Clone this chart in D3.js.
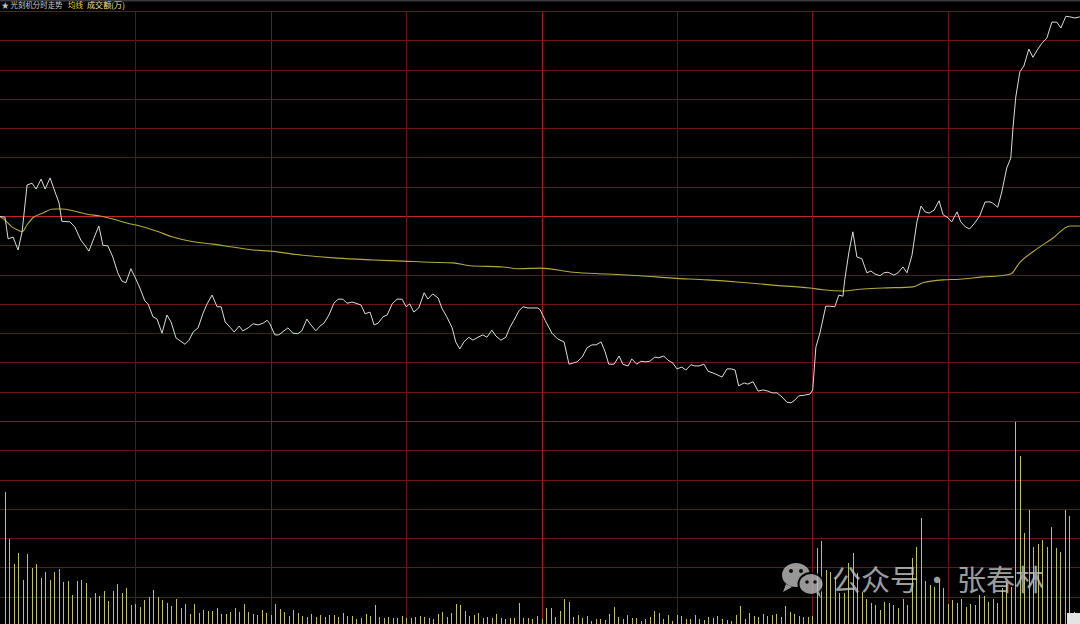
<!DOCTYPE html>
<html><head><meta charset="utf-8">
<script src="https://cdn.jsdelivr.net/npm/d3@7"></script>
<style>
html,body{margin:0;padding:0;background:#000;overflow:hidden;}
svg{display:block;}
</style></head>
<body>
<svg id="c" width="1080" height="624"></svg>
<script>
// ---- data ----
const title = "★ 光刻机分时走势";
const legendAvg = "均线";
const legendVol = "成交额(万)";

// minute offset since open (0..240) for each vertex of the price line
const priceMinute = [0,1.1,1.8,2.9,4.0,4.9,6.0,7.1,8.0,9.1,
10.0,11.1,12.2,13.1,13.7,15.5,16.6,17.9,18.8,19.7,
20.8,21.9,22.8,23.9,25.0,26.1,27.0,27.9,29.0,29.9,
31.0,32.1,32.8,33.9,34.8,35.9,37.0,37.9,39.0,39.9,
41.0,41.9,42.8,43.9,45.0,45.9,47.0,48.1,49.0,49.9,
51.0,51.9,53.0,53.8,55.0,56.1,57.2,58.3,59.2,59.8,
60.9,61.8,63.8,64.9,66.0,66.9,68.0,68.9,70.0,70.9,
71.8,72.9,74.0,74.9,76.0,76.9,78.0,78.9,80.0,80.9,
82.0,82.9,83.8,84.9,85.8,86.9,88.0,89.1,90.0,90.8,
91.7,92.8,94.0,94.8,95.9,97.1,97.9,99.0,100.2,101.0,
101.9,102.8,103.9,104.8,105.9,107.0,107.9,109.0,109.9,111.0,
112.1,113.0,113.9,115.0,115.9,117.0,118.1,119.2,119.7,120.8,
122.3,123.6,125.0,126.1,127.0,127.9,129.0,130.1,131.2,132.1,
133.2,134.1,134.9,136.1,137.2,138.0,139.2,140.0,141.1,142.0,
143.1,144.0,145.1,146.0,147.1,148.0,149.1,150.0,151.1,152.0,
153.1,154.0,154.9,156.0,156.9,158.0,158.9,160.0,161.1,162.0,
162.9,163.7,164.9,165.7,166.9,168.0,169.1,170.2,171.1,172.2,
173.3,174.4,175.3,176.2,177.0,178.2,179.5,180.1,180.8,181.7,
183.0,183.9,185.0,185.9,186.8,187.2,188.1,189.0,189.9,191.0,
192.1,193.0,193.9,195.0,195.9,196.8,198.1,199.0,200.1,201.0,
202.1,203.2,204.1,205.0,205.9,207.0,208.1,209.0,210.1,210.9,
212.1,212.9,214.0,214.9,216.0,217.1,218.3,219.4,220.0,221.1,
222.0,223.1,224.0,224.5,225.1,226.0,226.9,228.0,228.9,230.0,
230.9,232.0,233.1,234.2,235.1,236.2,237.1,238.2,239.3];

// price change vs previous close, %
const pricePct = [-0.01,-0.02,-0.39,-0.36,-0.58,-0.27,0.53,0.56,0.46,0.63,
0.46,0.65,0.41,0.22,-0.09,-0.10,-0.19,-0.41,-0.50,-0.60,
-0.38,-0.17,-0.50,-0.51,-0.70,-0.97,-1.11,-1.14,-0.90,-1.04,
-1.23,-1.45,-1.50,-1.72,-1.76,-2.00,-1.69,-1.81,-2.08,-2.13,
-2.19,-2.12,-1.98,-1.91,-1.66,-1.50,-1.35,-1.55,-1.55,-1.81,
-1.90,-1.98,-1.88,-1.96,-1.91,-1.84,-1.86,-1.83,-1.78,-1.84,
-2.03,-2.03,-1.91,-2.00,-2.01,-1.96,-1.76,-1.86,-1.96,-1.88,
-1.83,-1.69,-1.49,-1.42,-1.42,-1.49,-1.47,-1.49,-1.52,-1.67,
-1.64,-1.86,-1.83,-1.72,-1.69,-1.50,-1.42,-1.42,-1.55,-1.50,
-1.64,-1.57,-1.31,-1.42,-1.33,-1.40,-1.57,-1.72,-1.91,-2.15,
-2.27,-2.15,-2.07,-2.12,-2.07,-2.03,-2.07,-1.95,-2.05,-2.12,
-2.07,-1.90,-1.78,-1.62,-1.55,-1.57,-1.57,-1.57,-1.60,-1.78,
-2.00,-2.10,-2.15,-2.53,-2.51,-2.49,-2.41,-2.25,-2.20,-2.20,
-2.15,-2.32,-2.53,-2.53,-2.39,-2.53,-2.56,-2.44,-2.53,-2.48,
-2.49,-2.48,-2.41,-2.42,-2.39,-2.46,-2.51,-2.61,-2.58,-2.63,
-2.54,-2.56,-2.56,-2.53,-2.65,-2.68,-2.71,-2.75,-2.61,-2.61,
-2.63,-2.90,-2.85,-2.87,-2.83,-2.99,-2.97,-2.99,-3.02,-3.02,
-3.09,-3.18,-3.19,-3.14,-3.07,-3.06,-3.04,-2.97,-2.24,-2.00,
-1.54,-1.54,-1.55,-1.35,-1.37,-1.09,-0.63,-0.27,-0.70,-0.73,
-0.97,-0.94,-0.99,-1.02,-0.97,-0.96,-1.01,-0.97,-0.87,-0.97,
-0.67,-0.10,0.17,0.07,0.05,0.10,0.26,0.02,-0.03,-0.10,
0.07,-0.10,-0.19,-0.22,-0.12,0.00,0.24,0.24,0.22,0.15,
0.41,0.82,0.99,1.52,2.03,2.46,2.56,2.85,2.71,2.85,
2.95,3.04,3.31,3.31,3.21,3.41,3.40,3.38,3.40];

// average-price line (均线)
const avgMinute = [0,1.1,2.7,4.0,4.9,6.0,7.3,9.5,11.7,13.7,
16.2,19.3,22.2,25.0,28.1,31.0,34.8,38.3,42.8,47.2,
51.6,56.1,59.8,67.1,74.7,82.7,89.3,95.3,100.4,104.1,
111.5,114.6,119.7,127.0,134.5,141.8,149.1,156.7,164.0,171.3,
179.5,182.4,186.8,190.6,195.7,202.3,204.5,209.0,212.7,217.8,
221.6,224.0,226.0,228.9,233.3,237.1,239.3];
const avgPct = [-0.01,-0.07,-0.19,-0.24,-0.27,-0.15,-0.03,0.05,0.12,0.12,
0.09,0.03,0.00,-0.05,-0.12,-0.17,-0.26,-0.36,-0.44,-0.48,
-0.53,-0.58,-0.60,-0.67,-0.72,-0.75,-0.77,-0.79,-0.80,-0.85,
-0.87,-0.90,-0.89,-0.96,-0.99,-1.02,-1.06,-1.09,-1.13,-1.18,
-1.23,-1.26,-1.28,-1.25,-1.23,-1.21,-1.14,-1.09,-1.08,-1.04,
-1.02,-0.99,-0.79,-0.61,-0.38,-0.17,-0.17];

// turnover per minute (成交额, 万), minutes 1..239
const volume = [5360,3480,2480,2920,1840,2880,2320,2480,1920,2160,
1840,2160,2280,1760,1800,1240,1800,1840,1720,1120,
1320,1200,1400,1000,1400,1680,1320,1520,840,880,
760,1040,1160,1440,1160,1040,920,800,1080,720,
880,480,880,520,640,600,600,720,480,480,
560,720,560,880,560,480,440,640,520,
440,880,680,560,400,640,520,400,360,480,
360,440,360,440,440,360,520,400,400,280,
320,480,400,840,360,320,360,320,320,400,
320,320,360,400,360,320,280,480,560,360,
520,880,840,600,400,440,520,320,360,320,
480,320,280,320,320,920,320,320,280,400,
280,720,720,360,600,1080,960,360,440,320,
400,200,280,280,240,480,760,360,280,440,
320,320,200,280,360,600,520,280,440,200,
440,400,280,280,440,280,240,360,320,400,
280,240,200,440,800,280,520,400,360,480,
400,440,480,360,800,560,480,400,360,360,
400,
3120,3400,2240,2160,1960,1320,1320,2520,2920,2120,
1360,1080,920,840,640,960,920,840,720,1080,
840,2720,3160,4320,1800,1640,1560,1840,1520,880,
1040,920,1080,760,880,840,1240,1200,960,1080,
920,1520,1720,1560,8160,6800,3720,4640,3160,3280,
3440,3160,3960,3120,2960,4640,4400,
560,480];

const priceGrid = [-3.5,-3,-2.5,-2,-1.5,-1,-0.5,0,0.5,1,1.5,2,2.5,3,3.5];
const volGridSteps = [1,2,3,4,5,6,7];
const timeGrid = [30,60,90,120,150,180,210];

// ---- scales ----
const svg = d3.select("#c");
const x = d3.scaleLinear().domain([0,240]).range([0,1083]);
const yP = d3.scaleLinear().domain([-3.5,3.5]).range([421,11]);
const volMax = 8200;
const yV = d3.scaleLinear().domain([0,volMax]).range([626,421]);

svg.append("rect").attr("width",1080).attr("height",624).attr("fill","#000");

// header
svg.append("rect").attr("x",0).attr("y",0).attr("width",1080).attr("height",1.5).attr("fill","#3a3a40");
const hdr = svg.append("g").attr("font-family","'Noto Sans CJK SC','Noto Sans',sans-serif").attr("font-size",8);
hdr.append("text").attr("x",1.5).attr("y",8.4).attr("fill","#c8c8c8")
  .attr("textLength",61).attr("lengthAdjust","spacingAndGlyphs").text(title);
hdr.append("text").attr("x",68).attr("y",8.4).attr("fill","#e6d23a")
  .attr("textLength",15).attr("lengthAdjust","spacingAndGlyphs").text(legendAvg);
hdr.append("text").attr("x",87).attr("y",8.4).attr("fill","#e8e0a8")
  .attr("textLength",38).attr("lengthAdjust","spacingAndGlyphs").text(legendVol);

// grid via axes
const gridCol = "#6a1414";
const gH = svg.append("g")
  .call(d3.axisRight(yP).tickValues(priceGrid).tickSize(1080).tickFormat(""));
gH.select(".domain").remove();
gH.selectAll("line").attr("stroke",d=> d===0 ? "#c42424" : gridCol)
  .attr("stroke-width",d=> d===0 ? 1.6 : 1).attr("shape-rendering","crispEdges");

const gV = svg.append("g")
  .call(d3.axisRight(yV).tickValues(volGridSteps.map(k=>k*volMax/7)).tickSize(1080).tickFormat(""));
gV.select(".domain").remove();
gV.selectAll("line").attr("stroke",(d,i)=> i===6 ? "#8a1a1a" : gridCol).attr("shape-rendering","crispEdges");

const gT = svg.append("g").attr("transform","translate(0,11)")
  .call(d3.axisBottom(x).tickValues(timeGrid).tickSize(615).tickFormat(""));
gT.select(".domain").remove();
gT.selectAll(".tick").attr("transform", d=> `translate(${Math.round(x(d))+0.5},0)`);
gT.selectAll("line")
  .attr("stroke",d=> d===120 ? "#a01c1c" : (d%60===0 ? "#7a1616" : "#641212"))
  .attr("stroke-width",d=> d===120 ? 1.3 : 1);

// top border line
svg.append("line").attr("x1",0).attr("x2",1080).attr("y1",yP(3.5)).attr("y2",yP(3.5))
  .attr("stroke","#701616").attr("shape-rendering","crispEdges");

// volume bars
svg.append("g").selectAll("rect").data(volume).join("rect")
  .attr("x",(d,i)=> Math.round(x(i+1)) - 0.5)
  .attr("width",1)
  .attr("y",d=> yV(d))
  .attr("height",d=> yV(0)-yV(d))
  .attr("fill","#c0c06c")
  .attr("shape-rendering","crispEdges");

// average line
const avgData = d3.zip(avgMinute, avgPct);
svg.append("path").datum(avgData)
  .attr("d", d3.line().x(d=>x(d[0])).y(d=>yP(d[1])).curve(d3.curveMonotoneX))
  .attr("fill","none").attr("stroke","#b2aa3a").attr("stroke-width",1.1);

// price line
const priceData = d3.zip(priceMinute, pricePct);
svg.append("path").datum(priceData)
  .attr("d", d3.line().x(d=>x(d[0])).y(d=>yP(d[1])))
  .attr("fill","none").attr("stroke","#dcdcdc").attr("stroke-width",1)
  .attr("stroke-linejoin","round");

// watermark
const wm = svg.append("g").attr("opacity",0.8);
wm.append("path").attr("d","M786,584 L783,592 L792,587 Z").attr("fill","#bdbdbd");
wm.append("ellipse").attr("cx",796).attr("cy",575).attr("rx",14).attr("ry",12).attr("fill","#bdbdbd");
wm.append("circle").attr("cx",791).attr("cy",571).attr("r",2).attr("fill","#111");
wm.append("circle").attr("cx",801).attr("cy",571).attr("r",2).attr("fill","#111");
wm.append("ellipse").attr("cx",811).attr("cy",584).attr("rx",12.5).attr("ry",11)
  .attr("fill","#bdbdbd").attr("stroke","#000").attr("stroke-width",2);
wm.append("path").attr("d","M816,593 L821,598 L819,591 Z").attr("fill","#bdbdbd");
wm.append("circle").attr("cx",807).attr("cy",582).attr("r",1.8).attr("fill","#111");
wm.append("circle").attr("cx",815).attr("cy",582).attr("r",1.8).attr("fill","#111");
const wt = wm.append("g").attr("font-family","'Noto Sans CJK SC',sans-serif").attr("font-size",29).attr("fill","#c4c4c4");
wt.append("text").attr("x",832).attr("y",591).text("公众号");
wt.append("text").attr("x",937).attr("y",591).attr("text-anchor","middle").text("·");
wt.append("text").attr("x",957).attr("y",591).text("张春林");

svg.append("rect").attr("x",1067).attr("y",613).attr("width",13).attr("height",11).attr("fill","#e4e4e4");
</script>
</body></html>
